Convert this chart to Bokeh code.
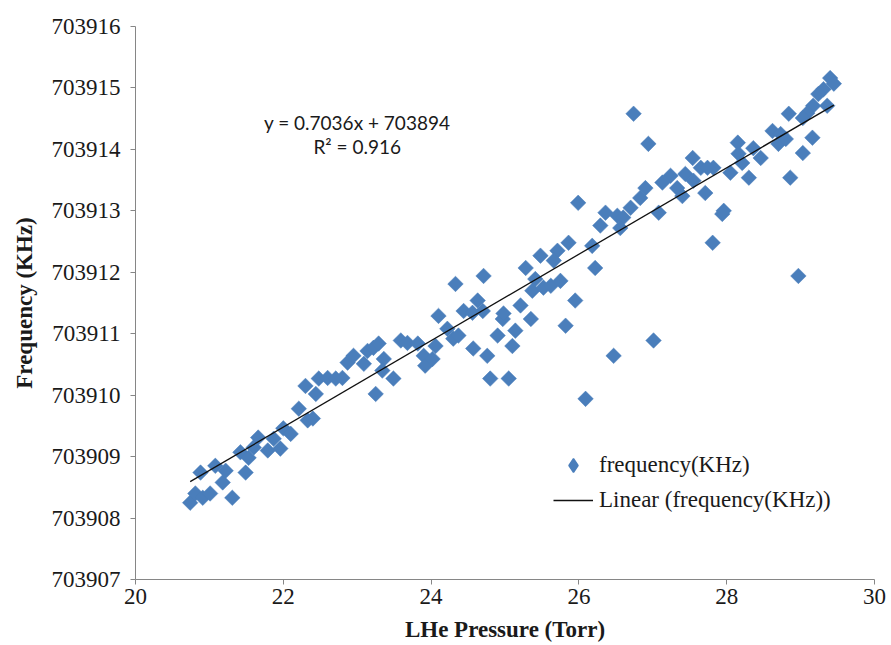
import math
from bokeh.plotting import figure
from bokeh.models import (ColumnDataSource, Legend, LegendItem, FixedTicker,
                          BasicTickFormatter, Range1d)
from bokeh.core.properties import value
from bokeh.embed import file_html
from bokeh.resources import INLINE

# ---- data ----
pressure = [
    20.74, 20.81, 20.91, 20.88, 21.01, 21.08, 21.18, 21.22, 21.31, 21.49,
    21.42, 21.53, 21.66, 21.60, 21.79, 21.87, 21.96, 22.00, 22.10, 22.21,
    22.33, 22.40, 22.30, 22.44, 22.48, 22.60, 22.71, 22.80, 22.87, 22.95,
    23.09, 23.14, 23.22, 23.29, 23.36, 23.34, 23.49, 23.25, 23.59, 23.68,
    23.82, 23.90, 23.92, 24.02, 24.06, 24.10, 24.22, 24.30, 24.37, 24.33,
    24.44, 24.56, 24.63, 24.70, 24.71, 24.57, 24.76, 24.80, 24.90, 24.97,
    24.98, 25.05, 25.10, 25.14, 25.21, 25.28, 25.35, 25.37, 25.41, 25.48,
    25.52, 25.62, 25.71, 25.66, 25.75, 25.86, 25.95, 25.82, 26.18, 26.22,
    27.01, 26.47, 26.09, 27.81, 26.74, 26.94, 27.54, 25.99, 26.36, 26.29,
    26.52, 26.60, 26.70, 26.56, 26.83, 26.90, 27.08, 27.13, 27.24, 27.33,
    27.40, 27.44, 27.55, 27.65, 27.71, 27.82, 27.96, 29.40, 29.45, 29.31,
    29.24, 29.36, 29.17, 29.09, 29.03, 28.84, 29.16, 29.03, 28.62, 28.73,
    28.70, 28.80, 28.36, 28.46, 28.15, 28.16, 28.21, 28.30, 28.05, 27.74,
    28.86, 27.94, 28.97,
]
frequency = [
    703908.25, 703908.40, 703908.33, 703908.74, 703908.40, 703908.85, 703908.58, 703908.77, 703908.33, 703908.74,
    703909.07, 703908.98, 703909.31, 703909.15, 703909.10, 703909.29, 703909.13, 703909.46, 703909.37, 703909.78,
    703909.59, 703909.62, 703910.15, 703910.02, 703910.27, 703910.28, 703910.27, 703910.28, 703910.53, 703910.64,
    703910.51, 703910.72, 703910.77, 703910.84, 703910.59, 703910.40, 703910.27, 703910.02, 703910.89, 703910.85,
    703910.84, 703910.64, 703910.48, 703910.59, 703910.80, 703911.29, 703911.08, 703910.92, 703910.97, 703911.81,
    703911.37, 703911.34, 703911.54, 703911.37, 703911.94, 703910.76, 703910.64, 703910.27, 703910.97, 703911.24,
    703911.33, 703910.27, 703910.80, 703911.05, 703911.46, 703912.07, 703911.24, 703911.70, 703911.89, 703912.27,
    703911.75, 703911.78, 703912.35, 703912.19, 703911.86, 703912.48, 703911.54, 703911.13, 703912.43, 703912.07,
    703910.89, 703910.64, 703909.94, 703912.48, 703914.58, 703914.09, 703913.86, 703913.13, 703912.97, 703912.76,
    703912.92, 703912.89, 703913.05, 703912.72, 703913.21, 703913.37, 703912.97, 703913.46, 703913.57, 703913.37,
    703913.24, 703913.60, 703913.49, 703913.70, 703913.29, 703913.70, 703913.00, 703915.16, 703915.07, 703914.98,
    703914.90, 703914.71, 703914.71, 703914.59, 703914.51, 703914.58, 703914.19, 703913.94, 703914.30, 703914.25,
    703914.09, 703914.17, 703914.02, 703913.86, 703914.11, 703913.93, 703913.78, 703913.54, 703913.62, 703913.70,
    703913.54, 703912.95, 703911.94,
]

fit_slope = 0.7036
fit_intercept = 703894.0
equation_lines = ["y = 0.7036x + 703894", "R\u00b2 = 0.916"]
equation_x = [23.0, 23.0]
equation_y = [703914.43, 703914.04]

x_ticks = [20, 22, 24, 26, 28, 30]
y_ticks = [703907, 703908, 703909, 703910, 703911, 703912, 703913, 703914, 703915, 703916]

series_name = "frequency(KHz)"
trend_name = "Linear (frequency(KHz))"
x_title = "LHe Pressure (Torr)"
y_title = "Frequency (KHz)"

serif = "Liberation Serif"
marker_color = "#4A7EBB"

# ---- figure ----
p = figure(width=891, height=645, output_backend="svg", toolbar_location=None,
           x_range=Range1d(20, 30), y_range=Range1d(703907, 703916),
           x_axis_label=x_title, y_axis_label=y_title,
           min_border_left=135, min_border_right=17, min_border_top=26, min_border_bottom=66)
p.outline_line_color = None
p.background_fill_color = "white"
p.border_fill_color = "white"
p.xgrid.visible = False
p.ygrid.visible = False

p.axis.axis_line_color = "#868686"
p.axis.major_tick_line_color = "#868686"
p.axis.minor_tick_line_color = None
p.axis.major_tick_in = 0
p.axis.major_tick_out = 5
p.axis.major_label_text_font = serif
p.axis.major_label_text_font_size = "23px"
p.axis.major_label_text_color = "#1a1a1a"
p.axis.axis_label_text_font = serif
p.axis.axis_label_text_font_size = "23px"
p.axis.axis_label_text_font_style = "bold"
p.axis.axis_label_text_color = "#1a1a1a"

p.xaxis.ticker = FixedTicker(ticks=x_ticks)
p.yaxis.ticker = FixedTicker(ticks=y_ticks)
p.yaxis.formatter = BasicTickFormatter(use_scientific=False)
p.xaxis.major_label_standoff = 4
p.xaxis.axis_label_standoff = 10
p.yaxis.major_label_standoff = 10
p.yaxis.axis_label_standoff = 12

src = ColumnDataSource(dict(x=pressure, y=frequency))
pts = p.scatter("x", "y", source=src, marker="square", size=11, angle=math.pi / 4,
                fill_color=marker_color, line_color=marker_color, line_width=0.5)

# legend symbol renderer (hidden on the plot, drawn only in the legend)
legend_marker = p.scatter(x=pressure[:1], y=frequency[:1], marker="diamond",
                          fill_color=marker_color, line_color=marker_color, line_width=1.5)
legend_marker.visible = False

fx = [min(pressure), max(pressure)]
fy = [fit_slope * v + fit_intercept for v in fx]
trend = p.line(fx, fy, line_color="#111111", line_width=1.3)

eq_src = ColumnDataSource(dict(x=equation_x, y=equation_y, t=equation_lines))
p.text("x", "y", text="t", source=eq_src, text_align="center", text_baseline="middle",
       text_font=value("Lato"), text_font_size="19px", text_color="#1a1a1a")

legend = Legend(items=[LegendItem(label=series_name, renderers=[legend_marker]),
                       LegendItem(label=trend_name, renderers=[trend])],
                location=(418, 62), orientation="vertical", click_policy="none",
                glyph_width=40, glyph_height=34, label_height=34, spacing=1,
                padding=0, margin=0, label_standoff=6,
                border_line_color=None, background_fill_alpha=0,
                label_text_font=serif, label_text_font_size="23px",
                label_text_color="#1a1a1a")
p.add_layout(legend)

open("out.html", "w").write(file_html(p, INLINE))
